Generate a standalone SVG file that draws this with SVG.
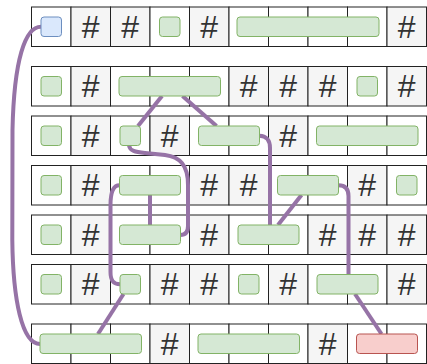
<svg xmlns="http://www.w3.org/2000/svg" width="427" height="364" viewBox="0 0 427 364">
<style>
.c{fill:#ffffff;stroke:#222222;stroke-width:1}
.g{fill:#f5f5f5;stroke:#222222;stroke-width:1}
.h{font-family:"Liberation Sans",Arial,sans-serif;font-size:32px;fill:#333333;text-anchor:middle}
.gr{fill:#d5e8d4;stroke:#82b366;stroke-width:1}
.bl{fill:#dae8fc;stroke:#6c8ebf;stroke-width:1}
.rd{fill:#f8cecc;stroke:#b85450;stroke-width:1}
.e{fill:none;stroke:#9673a6;stroke-width:4}
</style>
<defs>
<rect id="w" class="c" width="39.5" height="39.5"/>
<g id="s"><rect class="g" width="39.5" height="39.5"/><text class="h" x="19.75" y="30.5">#</text></g>
</defs>
<g id="table">
<g id="row1" transform="translate(0,7)">
<use href="#w" x="31.5"/><use href="#s" x="71"/><use href="#s" x="110.5"/><use href="#w" x="150"/><use href="#s" x="189.5"/><use href="#w" x="229"/><use href="#w" x="268.5"/><use href="#w" x="308"/><use href="#w" x="347.5"/><use href="#s" x="387"/>
</g>
<g id="row2" transform="translate(0,66.5)">
<use href="#w" x="31.5"/><use href="#s" x="71"/><use href="#w" x="110.5"/><use href="#w" x="150"/><use href="#w" x="189.5"/><use href="#s" x="229"/><use href="#s" x="268.5"/><use href="#s" x="308"/><use href="#w" x="347.5"/><use href="#s" x="387"/>
</g>
<g id="row3" transform="translate(0,116)">
<use href="#w" x="31.5"/><use href="#s" x="71"/><use href="#w" x="110.5"/><use href="#s" x="150"/><use href="#w" x="189.5"/><use href="#w" x="229"/><use href="#s" x="268.5"/><use href="#w" x="308"/><use href="#w" x="347.5"/><use href="#w" x="387"/>
</g>
<g id="row4" transform="translate(0,165.5)">
<use href="#w" x="31.5"/><use href="#s" x="71"/><use href="#w" x="110.5"/><use href="#w" x="150"/><use href="#s" x="189.5"/><use href="#s" x="229"/><use href="#w" x="268.5"/><use href="#w" x="308"/><use href="#s" x="347.5"/><use href="#w" x="387"/>
</g>
<g id="row5" transform="translate(0,215)">
<use href="#w" x="31.5"/><use href="#s" x="71"/><use href="#w" x="110.5"/><use href="#w" x="150"/><use href="#s" x="189.5"/><use href="#w" x="229"/><use href="#w" x="268.5"/><use href="#s" x="308"/><use href="#s" x="347.5"/><use href="#s" x="387"/>
</g>
<g id="row6" transform="translate(0,264.5)">
<use href="#w" x="31.5"/><use href="#s" x="71"/><use href="#w" x="110.5"/><use href="#s" x="150"/><use href="#s" x="189.5"/><use href="#w" x="229"/><use href="#s" x="268.5"/><use href="#w" x="308"/><use href="#w" x="347.5"/><use href="#s" x="387"/>
</g>
<g id="row7" transform="translate(0,324)">
<use href="#w" x="31.5"/><use href="#w" x="71"/><use href="#w" x="110.5"/><use href="#s" x="150"/><use href="#w" x="189.5"/><use href="#w" x="229"/><use href="#w" x="268.5"/><use href="#s" x="308"/><use href="#w" x="347.5"/><use href="#w" x="387"/>
</g>
</g>
<g id="connectors">
<path class="e" d="M41,26.75 C25,26.75 14,60 12.5,130 L12.3,240 C13,300 22,344 40,344"/>
<path class="e" d="M162,96 L138,126"/>
<path class="e" d="M182.5,96 L216.5,126"/>
<path class="e" d="M129,145.5 C130,151 135,152 145,153 L165,155 C180,157 188,165 188,185 L188,226 C188,232 185.5,235 180.5,235"/>
<path class="e" d="M119.5,185.25 C113,185.25 110.5,192 110.5,205 L110.5,272 C110.5,280 113,284.25 120,284.25"/>
<path class="e" d="M150,195 L150,225"/>
<path class="e" d="M259.5,135.75 C266,135.75 270,140 270,148 L270,225"/>
<path class="e" d="M301.5,195 L278,225"/>
<path class="e" d="M338.5,185.25 C345,185.25 348.5,189 348.5,196 L348.5,274.5"/>
<path class="e" d="M355,294 L381.5,334"/>
<path class="e" d="M123.5,294 L98,334"/>
</g>
<g id="n1"><rect class="bl" x="41" y="17" width="20.5" height="19.5" rx="3"/></g>
<g id="n2"><rect class="gr" x="159.5" y="17" width="20.5" height="19.5" rx="3"/></g>
<g id="n3"><rect class="gr" x="237" y="17" width="142" height="19.5" rx="3"/></g>
<g id="n4"><rect class="gr" x="41" y="76.5" width="20.5" height="19.5" rx="3"/></g>
<g id="n5"><rect class="gr" x="119" y="76.5" width="101.5" height="19.5" rx="3"/></g>
<g id="n6"><rect class="gr" x="357" y="76.5" width="20.5" height="19.5" rx="3"/></g>
<g id="n7"><rect class="gr" x="41" y="126" width="20.5" height="19.5" rx="3"/></g>
<g id="n8"><rect class="gr" x="120" y="126" width="20.5" height="19.5" rx="3"/></g>
<g id="n9"><rect class="gr" x="198.5" y="126" width="61" height="19.5" rx="3"/></g>
<g id="n10"><rect class="gr" x="316.5" y="126" width="101.5" height="19.5" rx="3"/></g>
<g id="n11"><rect class="gr" x="41" y="175.5" width="20.5" height="19.5" rx="3"/></g>
<g id="n12"><rect class="gr" x="119.5" y="175.5" width="61" height="19.5" rx="3"/></g>
<g id="n13"><rect class="gr" x="277.5" y="175.5" width="61" height="19.5" rx="3"/></g>
<g id="n14"><rect class="gr" x="396.5" y="175.5" width="20.5" height="19.5" rx="3"/></g>
<g id="n15"><rect class="gr" x="41" y="225" width="20.5" height="19.5" rx="3"/></g>
<g id="n16"><rect class="gr" x="119.5" y="225" width="61" height="19.5" rx="3"/></g>
<g id="n17"><rect class="gr" x="238" y="225" width="61" height="19.5" rx="3"/></g>
<g id="n18"><rect class="gr" x="41" y="274.5" width="20.5" height="19.5" rx="3"/></g>
<g id="n19"><rect class="gr" x="120" y="274.5" width="20.5" height="19.5" rx="3"/></g>
<g id="n20"><rect class="gr" x="238.5" y="274.5" width="20.5" height="19.5" rx="3"/></g>
<g id="n21"><rect class="gr" x="317" y="274.5" width="61" height="19.5" rx="3"/></g>
<g id="n22"><rect class="gr" x="40" y="334" width="101.5" height="19.5" rx="3"/></g>
<g id="n23"><rect class="gr" x="198" y="334" width="101.5" height="19.5" rx="3"/></g>
<g id="n24"><rect class="rd" x="356.5" y="334" width="61" height="19.5" rx="3"/></g>
</svg>
